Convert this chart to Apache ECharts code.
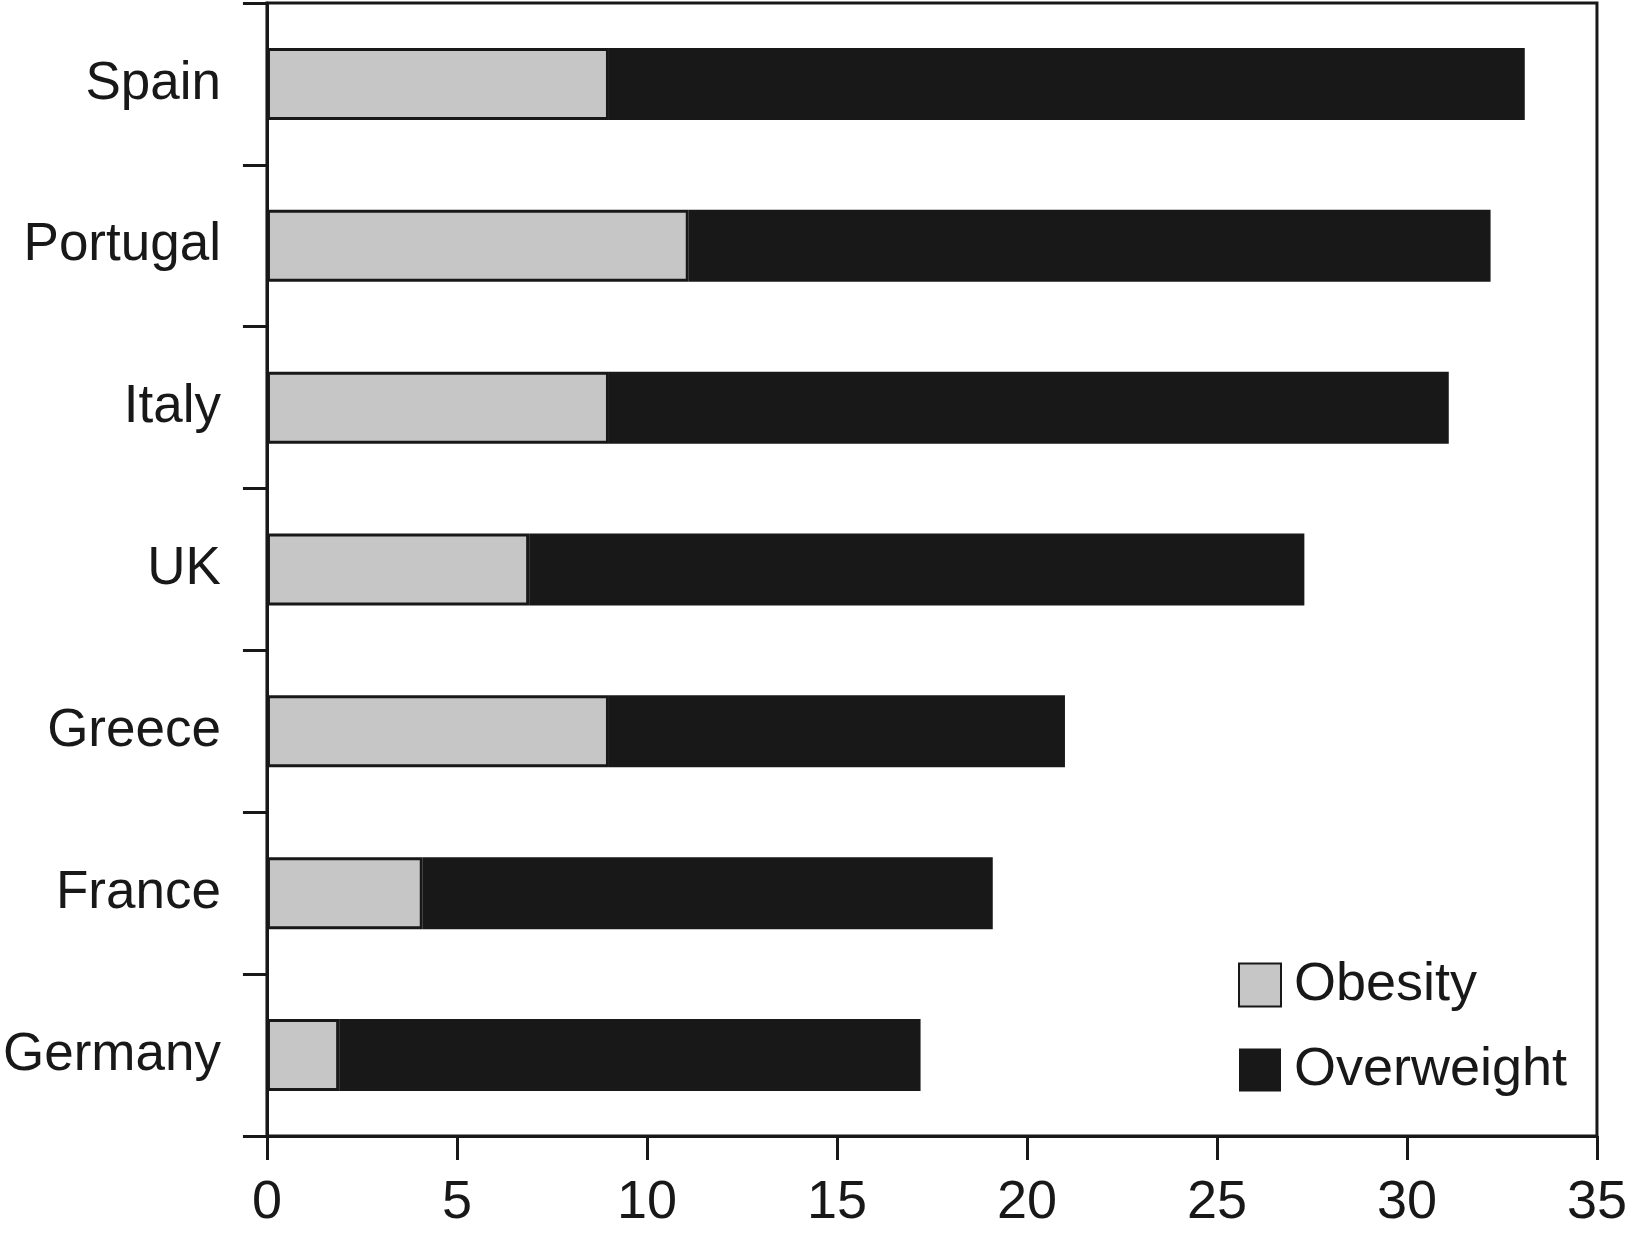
<!DOCTYPE html>
<html>
<head>
<meta charset="utf-8">
<script src="https://cdn.jsdelivr.net/npm/echarts@6/dist/echarts.min.js"></script>
<style>
html,body{margin:0;padding:0;background:#fff;}
#chart{width:1630px;height:1237px;}
</style>
</head>
<body>
<div id="chart"></div>
<script>
const categories = ['Spain', 'Portugal', 'Italy', 'UK', 'Greece', 'France', 'Germany'];
const obesity = [9.0, 11.1, 9.0, 6.9, 9.0, 4.1, 1.9];
const totalOverweight = [33.1, 32.2, 31.1, 27.3, 21.0, 19.1, 17.2];
const overweight = totalOverweight.map((t, i) => +(t - obesity[i]).toFixed(2));
const xTicks = [0, 5, 10, 15, 20, 25, 30, 35];

const FONT = 'Liberation Sans, Arial, Helvetica, sans-serif';
const chart = echarts.init(document.getElementById('chart'), null, {renderer: 'canvas'});
chart.setOption({
  animation: false,
  backgroundColor: '#ffffff',
  grid: {
    left: 266, right: 30, top: 3, bottom: 101,
    show: true, borderColor: '#181818', borderWidth: 3, backgroundColor: 'transparent'
  },
  legend: {
    orient: 'vertical',
    left: 1233, top: 953,
    itemWidth: 42, itemHeight: 43, itemGap: 31,
    icon: 'rect',
    textStyle: {fontFamily: FONT, fontSize: 54, color: '#181818', padding: [0, 0, 0, 8]},
    data: ['Obesity', 'Overweight']
  },
  xAxis: {
    type: 'value',
    min: xTicks[0], max: xTicks[xTicks.length - 1], interval: 5,
    axisLine: {show: true, lineStyle: {color: '#181818', width: 3}},
    axisTick: {show: true, length: 24, lineStyle: {color: '#181818', width: 3}},
    axisLabel: {fontFamily: FONT, fontSize: 54, color: '#181818', margin: 40},
    splitLine: {show: false}
  },
  yAxis: {
    type: 'category',
    data: categories,
    inverse: true,
    axisLine: {show: true, lineStyle: {color: '#181818', width: 3}},
    axisTick: {show: true, length: 24, alignWithLabel: false, lineStyle: {color: '#181818', width: 3}},
    axisLabel: {fontFamily: FONT, fontSize: 53, color: '#181818', margin: 46},
    splitLine: {show: false}
  },
  series: [
    {
      name: 'Obesity', type: 'bar', stack: 'total', data: obesity,
      barWidth: 72,
      itemStyle: {color: '#c6c6c6', borderColor: '#181818', borderWidth: 3}
    },
    {
      name: 'Overweight', type: 'bar', stack: 'total', data: overweight,
      barWidth: 72,
      itemStyle: {color: '#181818', borderColor: '#181818', borderWidth: 0}
    }
  ]
});
</script>
</body>
</html>
